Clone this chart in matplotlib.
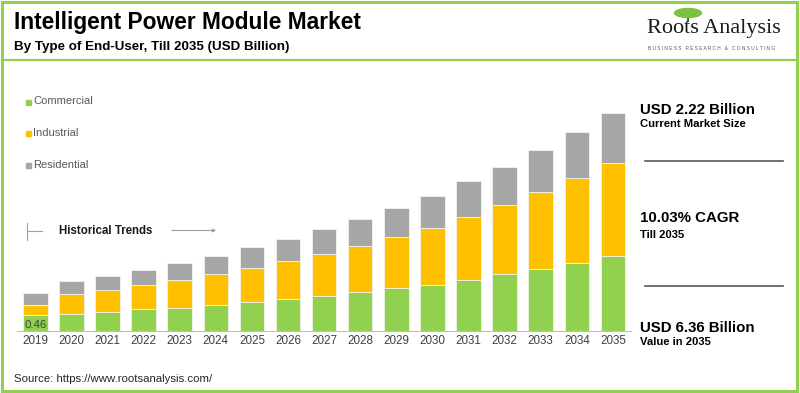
import matplotlib
matplotlib.use('Agg')
import matplotlib.pyplot as plt
from matplotlib.patches import Rectangle, Ellipse
from matplotlib.lines import Line2D
import numpy as np

years = ['2019', '2020', '2021', '2022', '2023', '2024', '2025', '2026', '2027',
         '2028', '2029', '2030', '2031', '2032', '2033', '2034', '2035']
commercial = [0.46, 0.49, 0.56, 0.63, 0.68, 0.77, 0.85, 0.93, 1.02,
              1.13, 1.24, 1.34, 1.49, 1.65, 1.81, 1.97, 2.20]
industrial = [0.31, 0.58, 0.63, 0.71, 0.82, 0.89, 1.00, 1.10, 1.22,
              1.35, 1.50, 1.67, 1.84, 2.01, 2.23, 2.48, 2.70]
residential = [0.33, 0.38, 0.40, 0.44, 0.49, 0.53, 0.59, 0.65, 0.73,
               0.79, 0.85, 0.94, 1.03, 1.13, 1.23, 1.34, 1.46]
series = [('Commercial', commercial, '#92D050'),
          ('Industrial', industrial, '#FFC000'),
          ('Residential', residential, '#A6A6A6')]

W, H = 800, 393
plt.rcParams['font.family'] = ['Liberation Sans', 'DejaVu Sans']

def px(x, y):
    # pixel coords (from top-left) -> figure fraction
    return x / W, 1 - y / H

fig = plt.figure(figsize=(8, 3.93), dpi=100)

# plot area: baseline at y=331px, 34.3 px per unit
ax_left, ax_right = 17.2, 631.0
base_y, ppu, ymax = 331.0, 34.3, 7.0
ax = fig.add_axes([ax_left / W, (H - base_y) / H, (ax_right - ax_left) / W, ymax * ppu / H])
x = np.arange(len(years))
bottom = np.zeros(len(years))
for name, vals, col in series:
    ax.bar(x, vals, 0.68, bottom=bottom, color=col, edgecolor='#f4f4e8', linewidth=0.6, label=name)
    bottom += np.array(vals)
ax.set_xlim(-0.5, len(years) - 0.5)
ax.set_ylim(0, ymax)
for s in ['top', 'right', 'left']:
    ax.spines[s].set_visible(False)
ax.spines['bottom'].set_color('#bfbfbf')
ax.set_yticks([])
ax.set_xticks(x)
ax.set_xticklabels(years, fontsize=8.4, color='#404040')
ax.tick_params(axis='x', length=0, pad=3)
ax.text(0, commercial[0] / 2 - 0.05, '0.46', ha='center', va='center', fontsize=8.2, color='#404040')

# legend
for i, (name, vals, col) in enumerate(series):
    ly = 101.5 + i * 31.7
    fig.patches.append(Rectangle(px(25.5, ly + 3), 5 / W, 5 / H, transform=fig.transFigure,
                                 color=col, zorder=3))
    fig.text(*px(33, ly), name, fontsize=8, color='#595959', va='center')

# historical trends marker
fig.add_artist(Line2D([27.3 / W, 27.3 / W], [1 - 223 / H, 1 - 240 / H], color='#a0a0a0', lw=0.8))
fig.add_artist(Line2D([27.3 / W, 42 / W], [1 - 230.5 / H, 1 - 230.5 / H], color='#a0a0a0', lw=0.8))
fig.text(*px(59, 230.5), 'Historical Trends', fontsize=8.3, fontweight='bold', color='#1a1a1a', va='center')
ax.annotate('', xy=px(219, 230.5), xytext=px(169, 230.5), xycoords='figure fraction',
            arrowprops=dict(arrowstyle='-|>', color='#a0a0a0', lw=0.8, mutation_scale=5))

# title
fig.text(*px(14, 23), 'Intelligent Power Module Market', fontsize=16.4, fontweight='bold', va='center')
fig.text(*px(14, 47), 'By Type of End-User, Till 2035 (USD Billion)', fontsize=9.6, fontweight='bold', va='center')

# logo
fig.patches.append(Ellipse(px(688, 13), 27 / W, 9 / H, transform=fig.transFigure, color='#7cc242', zorder=2))
fig.add_artist(Line2D([688 / W, 688 / W], [1 - 16 / H, 1 - 21 / H], color='#4a6b2a', lw=1.5))
fig.text(*px(647, 28), 'Roots Analysis', fontsize=16, family='Liberation Serif', color='#1a1a1a', va='center')
fig.text(*px(648, 48.5), 'B U S I N E S S   R E S E A R C H   &   C O N S U L T I N G', fontsize=3.4,
         color='#555555', va='center')

# right side key figures
fig.text(*px(640, 110), 'USD 2.22 Billion', fontsize=10.8, fontweight='bold', va='center')
fig.text(*px(640, 124.5), 'Current Market Size', fontsize=8.1, fontweight='bold', va='center')
fig.add_artist(Line2D([645 / W, 783 / W], [1 - 160.7 / H] * 2, color='#595959', lw=1.2))
fig.text(*px(640, 218.5), '10.03% CAGR', fontsize=10.8, fontweight='bold', va='center')
fig.text(*px(640, 234.5), 'Till 2035', fontsize=8.1, fontweight='bold', va='center')
fig.add_artist(Line2D([645 / W, 783 / W], [1 - 286 / H] * 2, color='#595959', lw=1.2))
fig.text(*px(640, 327.5), 'USD 6.36 Billion', fontsize=10.8, fontweight='bold', va='center')
fig.text(*px(640, 342), 'Value in 2035', fontsize=8.1, fontweight='bold', va='center')

# source
fig.text(*px(14, 378.5), 'Source: https://www.rootsanalysis.com/', fontsize=8.2, color='#262626', va='center')

# green frame and separator
fig.patches.append(Rectangle((2 / W, 2 / H), 795 / W, 389 / H, transform=fig.transFigure,
                             fill=False, edgecolor='#92D050', lw=2.2, zorder=5))
fig.add_artist(Line2D([2 / W, 797 / W], [1 - 59.5 / H] * 2, color='#92D050', lw=1.6))

fig.savefig('out.png', dpi=100)
